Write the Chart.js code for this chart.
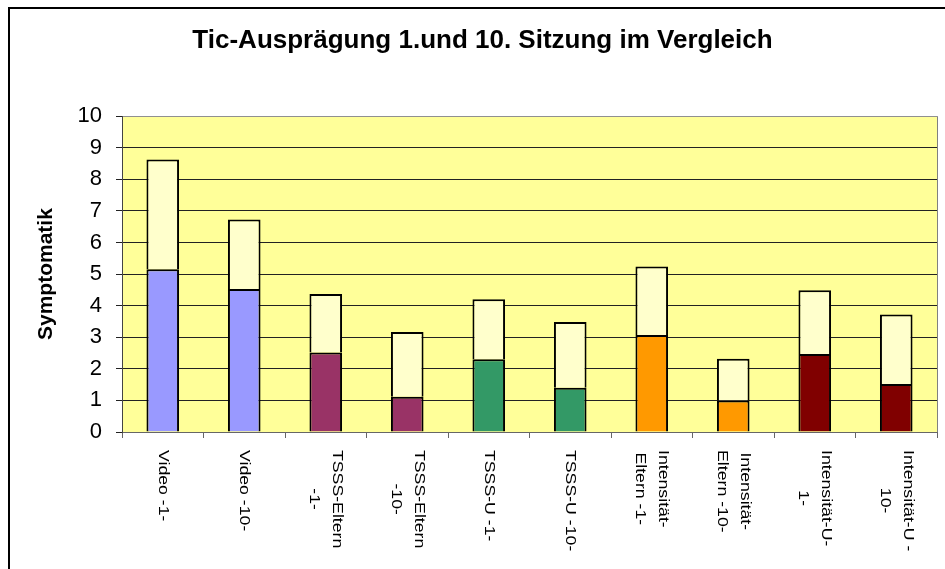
<!DOCTYPE html>
<html><head><meta charset="utf-8">
<script src="https://cdn.jsdelivr.net/npm/chart.js@4/dist/chart.umd.min.js"></script>
<style>html,body{margin:0;padding:0;background:#fff}canvas{display:block}</style>
</head><body>
<canvas id="c" width="945" height="569"></canvas>
<script>
// ---- data ----
const chartTitle = 'Tic-Ausprägung 1.und 10. Sitzung im Vergleich';
const yAxisTitle = 'Symptomatik';
const categories = [
  ['Video -1-'],
  ['Video -10-'],
  ['TSSS-Eltern', '-1-'],
  ['TSSS-Eltern', '-10-'],
  ['TSSS-U -1-'],
  ['TSSS-U -10-'],
  ['Intensität-', 'Eltern -1-'],
  ['Intensität-', 'Eltern -10-'],
  ['Intensität-U-', '1-'],
  ['Intensität-U -', '10-']
];
const lowerValues = [5.15, 4.53, 2.52, 1.12, 2.30, 1.40, 3.07, 1.00, 2.47, 1.52];
const upperValues = [3.48, 2.20, 1.85, 2.05, 1.90, 2.08, 2.17, 1.32, 2.02, 2.20];
const lowerColors = ['#9999FF', '#9999FF', '#993366', '#993366', '#339966', '#339966', '#FF9900', '#FF9900', '#800000', '#800000'];
const upperColor = '#FFFFCC';
const yMin = 0, yMax = 10, yStep = 1;

// ---- plugins ----
const frame = {
  id: 'frame',
  beforeDraw(chart) {
    const {ctx, chartArea: a} = chart;
    ctx.save();
    ctx.fillStyle = '#ffffff';
    ctx.fillRect(0, 0, chart.width, chart.height);
    ctx.fillStyle = '#FFFF99';
    ctx.fillRect(a.left, a.top, a.right - a.left, a.bottom - a.top);
    ctx.strokeStyle = '#000';
    ctx.lineWidth = 2;
    ctx.beginPath();
    ctx.moveTo(9, chart.height + 2);
    ctx.lineTo(9, 8);
    ctx.lineTo(chart.width + 2, 8);
    ctx.stroke();
    ctx.restore();
  },
  afterDraw(chart) {
    const {ctx, chartArea: a} = chart;
    ctx.save();
    ctx.strokeStyle = '#808080';
    ctx.lineWidth = 1;
    ctx.beginPath();
    ctx.moveTo(Math.round(a.right) + 0.5, a.top);
    ctx.lineTo(Math.round(a.right) + 0.5, a.bottom);
    ctx.stroke();
    // rotated category labels (reading top to bottom)
    const xs = chart.scales.x;
    ctx.fillStyle = '#000';
    ctx.font = '15px "Liberation Sans", Arial, sans-serif';
    ctx.textAlign = 'center';
    ctx.textBaseline = 'middle';
    const stretch = 1.18, gap = 23, top = 450;
    categories.forEach((lines, i) => {
      const cx = xs.getPixelForValue(i);
      const maxW = Math.max(...lines.map(l => ctx.measureText(l).width));
      ctx.save();
      ctx.translate(cx, top);
      ctx.rotate(Math.PI / 2);
      ctx.scale(stretch, 1);
      lines.forEach((l, j) => {
        ctx.fillText(l, maxW / 2, (j - (lines.length - 1) / 2) * gap);
      });
      ctx.restore();
    });
    ctx.restore();
  }
};

new Chart(document.getElementById('c'), {
  type: 'bar',
  data: {
    labels: categories,
    datasets: [
      {label: 'Sitzung', data: lowerValues, backgroundColor: lowerColors, borderColor: '#000', borderWidth: 2, borderSkipped: 'start'},
      {label: 'Rest', data: upperValues, backgroundColor: upperColor, borderColor: '#000', borderWidth: 2, borderSkipped: 'start'}
    ]
  },
  options: {
    responsive: false,
    animation: false,
    layout: {padding: {left: 28, right: 8, top: 0, bottom: 0}},
    datasets: {bar: {barPercentage: 0.4, categoryPercentage: 1}},
    plugins: {
      legend: {display: false},
      tooltip: {enabled: false},
      title: {
        display: true,
        text: chartTitle,
        color: '#000',
        font: {family: '"Liberation Sans", Arial, sans-serif', size: 26, weight: 'bold'},
        padding: {top: 25, bottom: 60}
      }
    },
    scales: {
      x: {
        stacked: true,
        afterFit(s) { s.height = 137; },
        ticks: {display: false},
        border: {display: true, color: '#666', width: 1},
        grid: {drawOnChartArea: false, drawTicks: true, tickLength: 6, color: '#666', offset: true}
      },
      y: {
        stacked: true,
        min: yMin, max: yMax,
        afterFit(s) { s.width = 94; },
        ticks: {stepSize: yStep, color: '#000', padding: 14,
          font: {family: '"Liberation Sans", Arial, sans-serif', size: 22}},
        border: {display: true, color: '#444', width: 1},
        grid: {
          color: (c) => (c.tick && c.tick.value === yMax) ? '#909090' : '#222',
          tickColor: '#222',
          tickLength: 6
        },
        title: {
          display: true,
          text: yAxisTitle,
          color: '#000',
          font: {family: '"Liberation Sans", Arial, sans-serif', size: 21, weight: 'bold'},
          padding: {top: 6, bottom: 0}
        }
      }
    }
  },
  plugins: [frame]
});
</script>
</body></html>
